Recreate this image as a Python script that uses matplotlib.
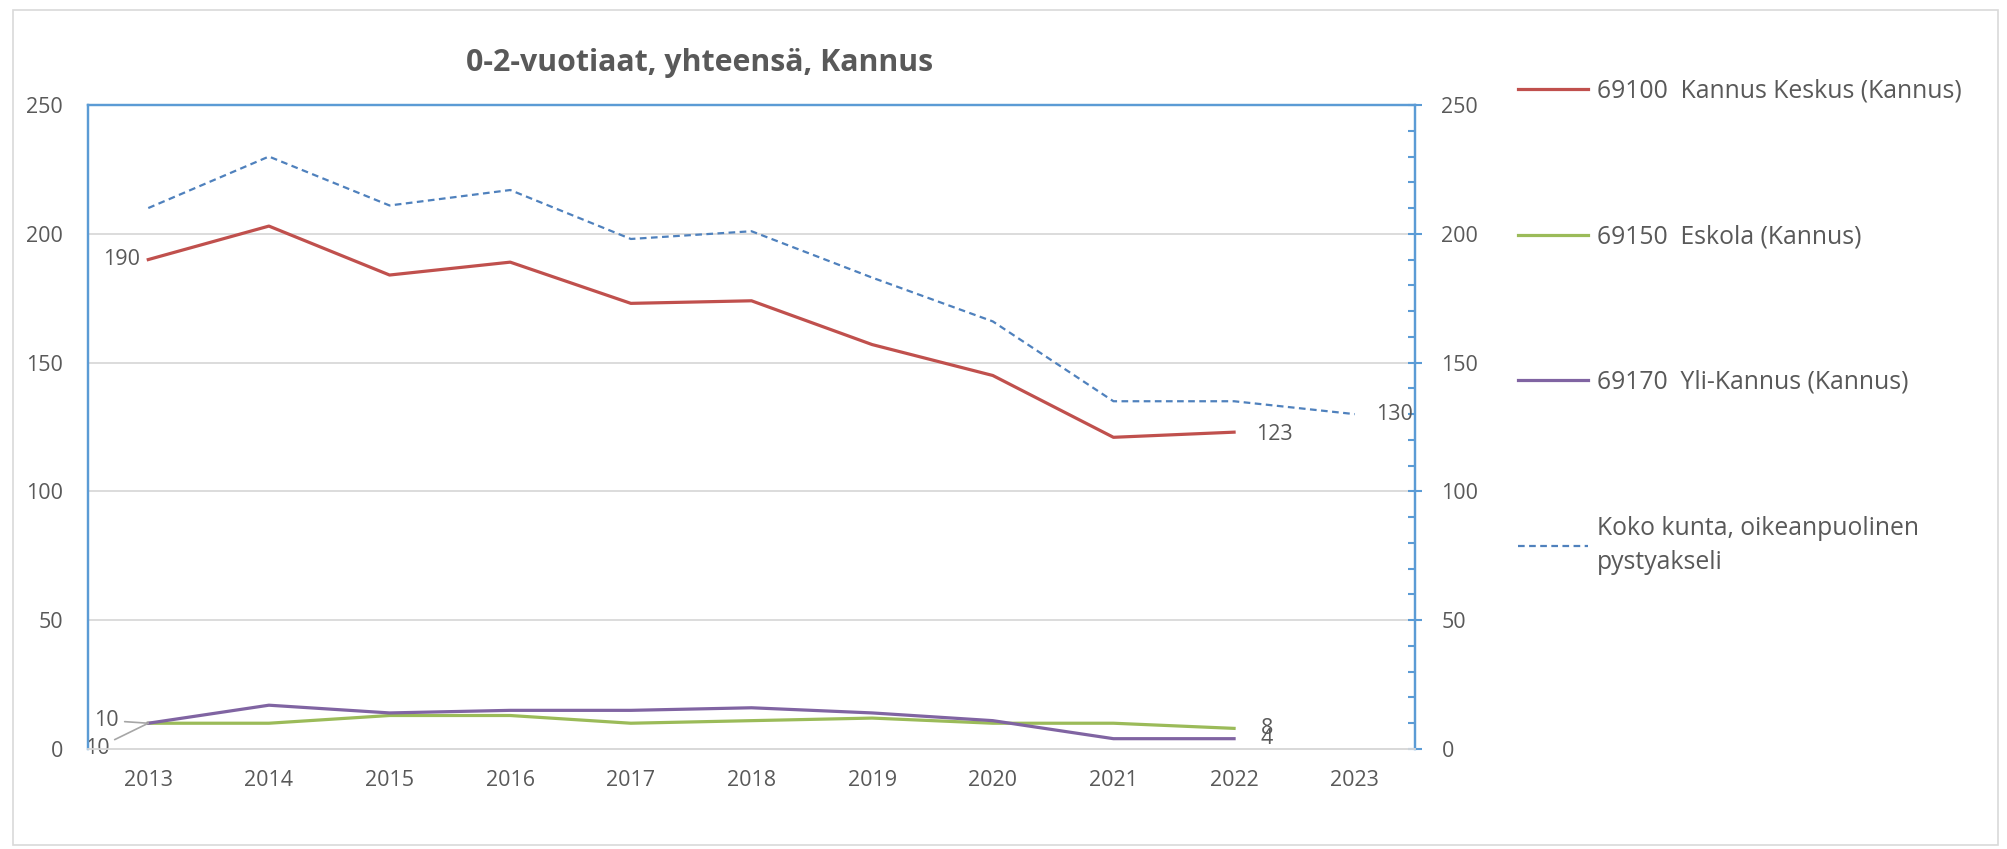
import matplotlib
matplotlib.use("Agg")
import matplotlib.pyplot as plt
from matplotlib.patches import Rectangle
from matplotlib.ticker import MultipleLocator

# data
vuodet = ["2013", "2014", "2015", "2016", "2017", "2018", "2019", "2020", "2021", "2022", "2023"]
keskus = [190, 203, 184, 189, 173, 174, 157, 145, 121, 123]
eskola = [10, 10, 13, 13, 10, 11, 12, 10, 10, 8]
yli_kannus = [10, 17, 14, 15, 15, 16, 14, 11, 4, 4]
koko_kunta = [210, 230, 211, 217, 198, 201, 183, 166, 135, 135, 130]

nimet = ["69100  Kannus Keskus (Kannus)", "69150  Eskola (Kannus)",
         "69170  Yli-Kannus (Kannus)", "Koko kunta, oikeanpuolinen\npystyakseli"]

plt.rcParams['font.family'] = ['Open Sans', 'DejaVu Sans']
harmaa = '#595959'
sininen = '#5B9BD5'
fs = 15.5

fig = plt.figure(figsize=(20.08, 8.49), dpi=100)
ax = fig.add_axes([0.0438, 0.1178, 0.6609, 0.7585])
ax2 = ax.twinx()

x = list(range(len(vuodet)))
l1, = ax.plot(x[:len(keskus)], keskus, color='#C0504D', lw=2.3)
l2, = ax.plot(x[:len(eskola)], eskola, color='#9BBB59', lw=2.3)
l3, = ax.plot(x[:len(yli_kannus)], yli_kannus, color='#8064A2', lw=2.3)
l4, = ax2.plot(x, koko_kunta, color='#4F81BD', lw=1.6, ls=(0, (3, 2)))

for a in (ax, ax2):
    a.set_ylim(0, 250)
    a.set_xlim(-0.5, 10.5)

ax.set_xticks(x)
ax.set_xticklabels(vuodet)
ax.tick_params(axis='x', length=0, pad=15, labelsize=fs, labelcolor=harmaa)
ax.set_yticks(range(0, 251, 50))
ax.tick_params(axis='y', length=0, pad=18, labelsize=fs, labelcolor=harmaa)
ax.grid(axis='y', color='#d9d9d9', lw=1.3)
ax.set_axisbelow(True)

ax2.set_yticks(range(0, 251, 50))
ax2.yaxis.set_minor_locator(MultipleLocator(10))
ax2.tick_params(axis='y', which='major', direction='inout', length=10, width=1.5,
                color=sininen, pad=14, labelsize=fs, labelcolor=harmaa)
ax2.tick_params(axis='y', which='minor', direction='in', length=5, width=1.5, color=sininen)

for a in (ax, ax2):
    for s in ('left', 'right', 'top'):
        a.spines[s].set_color(sininen)
        a.spines[s].set_linewidth(1.6)
    a.spines['bottom'].set_color('#d9d9d9')
    a.spines['bottom'].set_linewidth(1.3)

# data labels
tk = dict(fontsize=fs, color=harmaa, textcoords='offset points', va='center')
ax.annotate(str(keskus[0]), (0, keskus[0]), xytext=(-6, 0), ha='right', **tk)
ax.annotate(str(keskus[-1]), (len(keskus) - 1, keskus[-1]), xytext=(16, -2), ha='left', **tk)
ax2.annotate(str(koko_kunta[-1]), (len(koko_kunta) - 1, koko_kunta[-1]), xytext=(15, 0), ha='left', **tk)
ax.annotate(str(eskola[-1]), (len(eskola) - 1, eskola[-1]), xytext=(19, 0), ha='left', **tk)
ax.annotate(str(yli_kannus[-1]), (len(yli_kannus) - 1, yli_kannus[-1]), xytext=(19, 0), ha='left', **tk)
johto = dict(arrowstyle='-', color='#a6a6a6', lw=1.2, shrinkA=2, shrinkB=0)
ax.annotate(str(yli_kannus[0]), (0, yli_kannus[0]), xytext=(-21, 2), ha='right',
            arrowprops=johto, **tk)
ax.annotate(str(eskola[0]), (0, eskola[0]), xytext=(-28, -18), ha='right',
            arrowprops=johto, **tk)

fig.text(0.3486, 0.926, "0-2-vuotiaat, yhteensä, Kannus", fontsize=21.8, fontweight='bold',
         color=harmaa, ha='center', va='center')

leg = fig.legend([l1, l2, l3, l4], nimet, loc='upper left', bbox_to_anchor=(0.7513, 0.919),
                 frameon=False, fontsize=17.8, labelcolor=harmaa, handlelength=2.8,
                 handletextpad=0.36, labelspacing=4.88, borderaxespad=0)
for t in leg.get_texts():
    t.set_linespacing(1.5)

fig.add_artist(Rectangle((13 / 2008, 1 - 845 / 849), 1985 / 2008, 835 / 849,
                         transform=fig.transFigure, fill=False, ec='#d9d9d9', lw=1.2))

fig.savefig("out.png", dpi=100)
